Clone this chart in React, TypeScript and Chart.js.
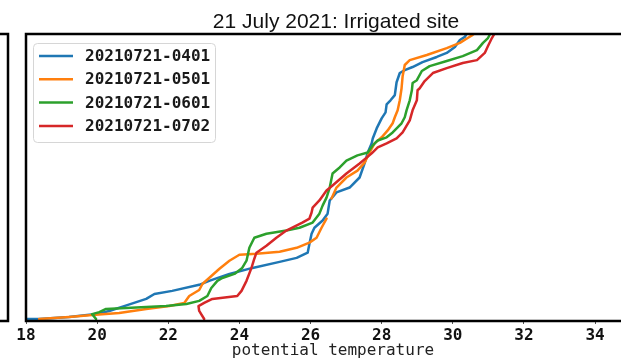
import { useEffect, useRef } from "react";
import { Chart, registerables } from "chart.js";

Chart.register(...registerables);

const chartTitle = "21 July 2021: Irrigated site";
const xAxisLabel = "potential temperature";
const seriesLabels = ["20210721-0401", "20210721-0501", "20210721-0601", "20210721-0702"];
const seriesColors = ["#1f77b4", "#ff7f0e", "#2ca02c", "#d62728"];
const xTicks = [18, 20, 22, 24, 26, 28, 30, 32, 34];

// potential temperature (x) and relative height in plot (y, 0..100)
const temp0401 = [18.0, 18.37, 19.21, 19.97, 20.34, 20.76, 21.38, 21.61, 22.11, 22.87, 23.15, 23.72, 24.37, 25.13, 25.61, 25.92, 25.97, 26.03, 26.11, 26.34, 26.48, 26.54, 26.73, 27.1, 27.38, 27.52, 27.61, 27.72, 27.75, 27.86, 28.0, 28.11, 28.14, 28.25, 28.37, 28.42, 28.51, 28.65, 28.87, 29.15, 29.55, 29.83, 30.06, 30.2, 30.34, 30.42];
const height0401 = [0.7, 0.7, 1.4, 2.4, 3.5, 5.2, 7.7, 9.4, 10.5, 12.6, 14.0, 16.4, 18.5, 20.6, 22.0, 23.8, 26.9, 30.4, 32.5, 35.0, 37.4, 42.0, 44.8, 46.5, 50.0, 54.9, 58.7, 61.9, 63.6, 67.1, 70.6, 72.7, 75.5, 76.9, 78.7, 83.2, 86.4, 87.4, 88.5, 90.2, 92.0, 93.4, 95.5, 97.9, 99.0, 100.7];

const temp0501 = [18.37, 19.21, 19.86, 20.62, 21.38, 22.03, 22.45, 22.59, 22.87, 22.96, 23.44, 23.72, 24.0, 24.48, 25.13, 25.61, 25.97, 26.17, 26.31, 26.45, null, 26.59, 26.73, 27.01, 27.32, 27.52, 27.66, 27.8, 28.0, 28.17, 28.31, 28.37, 28.45, 28.51, 28.56, 28.59, 28.65, 28.79, 29.27, 29.83, 30.2, 30.42, 30.56, 30.7];
const height0501 = [0.7, 1.4, 2.1, 2.8, 4.2, 5.2, 6.3, 8.7, 10.8, 12.9, 18.2, 21.0, 23.1, 23.4, 24.1, 25.5, 27.3, 29.0, 32.5, 35.7, 39.0, 42.7, 46.5, 50.0, 52.4, 55.2, 58.7, 61.9, 64.0, 66.4, 68.9, 71.0, 73.4, 76.9, 81.1, 85.3, 89.2, 90.9, 92.7, 95.1, 96.9, 98.6, 99.7, 101.0];

const temp0601 = [19.97, 19.86, 20.06, 20.25, 20.82, 21.94, 22.51, 22.87, 23.1, 23.21, 23.38, 23.52, 23.86, 24.08, 24.2, 24.28, 24.42, 24.76, 25.32, 25.69, 26.06, 26.25, 26.34, 26.45, 26.54, 26.62, 26.82, 27.01, 27.32, 27.61, 27.75, 27.89, 28.14, 28.31, 28.56, 28.65, 28.7, 28.79, 28.85, 28.87, 28.99, 29.13, 29.35, 29.83, 30.28, 30.68, 30.85, 30.99, 31.08];
const height0601 = [0.7, 2.4, 3.1, 4.2, 4.5, 5.2, 5.9, 7.0, 8.7, 11.5, 14.0, 15.0, 16.4, 18.5, 21.0, 25.5, 29.0, 30.4, 31.5, 32.5, 34.3, 37.4, 40.2, 43.0, 46.5, 51.4, 53.5, 55.9, 57.7, 58.7, 61.2, 62.9, 64.0, 65.7, 68.9, 71.0, 73.4, 76.9, 80.4, 82.9, 83.9, 87.1, 88.8, 90.6, 92.3, 94.4, 96.9, 98.6, 100.7];

const temp0702 = [23.01, 22.87, 22.85, 23.01, 23.24, 23.94, 24.06, 24.2, 24.34, 24.42, 24.48, 24.76, 25.04, 25.32, 25.77, 25.97, 26.03, 26.06, 26.25, 26.45, 26.62, 27.01, 27.38, 27.72, 27.89, 28.14, 28.42, 28.59, 28.79, 28.87, 28.99, 29.01, 29.07, 29.21, 29.44, 29.83, 30.28, 30.68, 30.9, 30.99, 31.1, 31.18];
const height0702 = [0.7, 3.5, 5.2, 6.3, 7.7, 8.7, 10.5, 14.0, 18.5, 21.7, 23.8, 26.2, 29.0, 31.5, 34.3, 35.7, 37.8, 39.5, 42.0, 45.5, 47.2, 51.4, 54.9, 58.4, 60.5, 61.9, 63.6, 65.7, 69.9, 73.4, 76.9, 80.4, 81.1, 83.6, 86.4, 88.1, 89.9, 90.9, 93.4, 95.8, 98.6, 100.3];

const seriesTemps = [temp0401, temp0501, temp0601, temp0702];
const seriesHeights = [height0401, height0501, height0601, height0702];

const MONO = '"DejaVu Sans Mono", monospace';

const framePlugin = {
  id: "frame",
  afterDraw(chart: any) {
    const { ctx, chartArea: a } = chart;
    const W = chart.width;
    ctx.save();
    // axes frame (left, top, bottom; right side is cut off)
    ctx.strokeStyle = "#000";
    ctx.lineWidth = 2.5;
    ctx.beginPath();
    ctx.moveTo(W + 2, a.top);
    ctx.lineTo(a.left, a.top);
    ctx.lineTo(a.left, a.bottom);
    ctx.lineTo(W + 2, a.bottom);
    ctx.stroke();
    // neighbouring panel's right edge
    ctx.beginPath();
    ctx.moveTo(-2, a.top);
    ctx.lineTo(8, a.top);
    ctx.lineTo(8, a.bottom);
    ctx.lineTo(-2, a.bottom);
    ctx.stroke();

    // legend
    const lx = 33.5, ly = 43.5, lw = 182, lh = 99;
    ctx.beginPath();
    ctx.roundRect(lx, ly, lw, lh, 4);
    ctx.fillStyle = "rgba(255,255,255,0.8)";
    ctx.fill();
    ctx.strokeStyle = "#d6d6d6";
    ctx.lineWidth = 1;
    ctx.stroke();
    const ds = chart.data.datasets;
    ctx.font = `bold 16px ${MONO}`;
    ctx.textBaseline = "middle";
    ctx.textAlign = "left";
    for (let i = 0; i < ds.length; i++) {
      const y = 56 + i * 23.3;
      ctx.strokeStyle = ds[i].borderColor;
      ctx.lineWidth = 2.5;
      ctx.beginPath();
      ctx.moveTo(39, y);
      ctx.lineTo(73, y);
      ctx.stroke();
      ctx.fillStyle = "#1a1a1a";
      ctx.fillText(ds[i].label, 85, y + 1);
    }

    // title
    ctx.fillStyle = "#111";
    ctx.textAlign = "center";
    ctx.textBaseline = "alphabetic";
    ctx.font = '21px "Liberation Sans", Arial, sans-serif';
    ctx.fillText(chartTitle, 336, 28);

    // x axis label
    ctx.font = `16px ${MONO}`;
    ctx.fillStyle = "#222";
    ctx.fillText(xAxisLabel, 333, 355);
    ctx.restore();
  },
};

export default function App() {
  const ref = useRef<HTMLCanvasElement | null>(null);

  useEffect(() => {
    if (!ref.current) return;
    const datasets = seriesLabels.map((label, i) => ({
      label,
      data: seriesTemps[i].map((t, j) => ({ x: t, y: t === null ? null : seriesHeights[i][j] })),
      borderColor: seriesColors[i],
      backgroundColor: seriesColors[i],
      borderWidth: 2.5,
      borderJoinStyle: "round",
      borderCapStyle: "round",
      pointRadius: 0,
      showLine: true,
      fill: false,
      tension: 0,
      spanGaps: false,
      order: seriesLabels.length - i,
    }));
    const chart = new Chart(ref.current, {
      type: "scatter",
      data: { datasets } as any,
      options: {
        animation: false,
        responsive: false,
        devicePixelRatio: 1,
        layout: { padding: { left: 26, top: 34, right: 0, bottom: 0 } },
        plugins: { legend: { display: false }, tooltip: { enabled: false }, title: { display: false } },
        scales: {
          x: {
            type: "linear",
            min: 18,
            max: 34.73,
            afterBuildTicks: (scale: any) => {
              scale.ticks = xTicks.map((v) => ({ value: v }));
            },
            afterFit: (scale: any) => {
              scale.height = 38;
            },
            grid: { display: true, drawOnChartArea: false, drawTicks: true, tickLength: 3, color: "#555", lineWidth: 1 },
            border: { display: false },
            ticks: {
              padding: 2,
              color: "#111",
              font: { family: MONO, size: 16, weight: "bold" },
              maxRotation: 0,
              autoSkip: false,
            },
          },
          y: { type: "linear", display: false, min: 0, max: 100 },
        },
      } as any,
      plugins: [framePlugin],
    });
    return () => chart.destroy();
  }, []);

  return (
    <div style={{ position: "absolute", left: 0, top: 0, width: 621, height: 359, background: "#fff" }}>
      <canvas ref={ref} width={621} height={359} style={{ display: "block" }} />
    </div>
  );
}
